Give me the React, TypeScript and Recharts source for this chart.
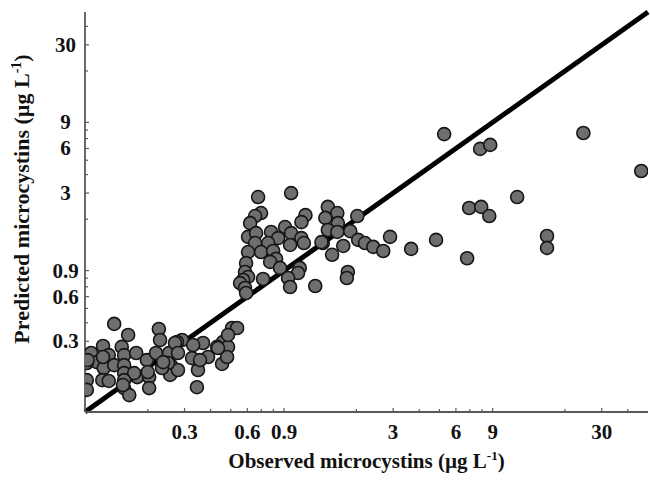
import React from "react";
import { ScatterChart, Scatter, XAxis, YAxis, ReferenceLine } from "recharts";

const observed = [
  // high observed values
  5.27, 7.84, 8.76, 24.5, 46.4, 11.8, 6.94, 7.93, 8.67, 16.4, 16.4, 3.66, 4.82, 6.79,
  // 1.3 - 3
  1.46, 1.62, 1.42, 1.63, 2.02, 1.46, 1.62, 1.87, 2.04, 2.2, 2.41, 2.69, 2.9, 1.73, 1.53, 1.38, 1.82, 1.8, 1.36,
  // 0.55 - 1.3
  0.676, 0.973, 0.698, 0.654, 0.619, 1.14, 1.09, 0.91, 0.78, 0.605, 0.661, 0.973, 0.843, 1.09, 0.654, 0.755,
  0.698, 0.798, 0.962, 1.12, 0.605, 0.592, 0.824, 0.772, 0.585, 0.605, 0.573, 0.861, 1.07, 1.05, 0.714, 0.941,
  0.554, 0.585, 0.962, 1.27, 0.592,
  // low cluster
  0.138, 0.161, 0.226, 0.229, 0.122, 0.15, 0.107, 0.114, 0.13, 0.154, 0.176, 0.102, 0.123, 0.138, 0.154, 0.154,
  0.198, 0.219, 0.239, 0.178, 0.172, 0.102, 0.121, 0.13, 0.154, 0.203, 0.102, 0.154, 0.163, 0.203, 0.258, 0.253,
  0.344, 0.507, 0.536, 0.459, 0.454, 0.368, 0.348, 0.326, 0.292, 0.276, 0.256, 0.279, 0.25, 0.234, 0.389, 0.43,
  0.485, 0.48, 0.485, 0.434, 0.33, 0.27, 0.279, 0.356, 0.122, 0.103, 0.152, 0.237, 0.2,
];

const predicted = [
  7.5, 5.96, 6.34, 7.63, 4.23, 2.82, 2.38, 2.42, 2.1, 1.54, 1.28, 1.26, 1.45, 1.09,
  2.42, 2.2, 2.04, 1.88, 2.1, 1.69, 1.64, 1.66, 1.45, 1.38, 1.3, 1.22, 1.52, 1.32, 1.15, 1.38, 0.881, 0.802, 1.4,
  2.82, 3.0, 2.2, 2.1, 1.88, 2.13, 1.91, 1.77, 1.64, 1.52, 1.61, 1.61, 1.49, 1.49, 1.38, 1.38,
  1.2, 1.22, 1.34, 1.38, 1.2, 1.01, 1.08, 1.03, 0.881, 0.815, 0.778, 0.938, 0.938, 0.867, 0.79, 0.802,
  0.741, 0.687, 0.697, 0.708, 0.635,
  0.393, 0.331, 0.363, 0.306, 0.279, 0.275, 0.25, 0.217, 0.242, 0.242, 0.25, 0.214, 0.198, 0.207, 0.207, 0.183,
  0.224, 0.25, 0.198, 0.172, 0.183, 0.164, 0.164, 0.162, 0.164, 0.172, 0.141, 0.145, 0.13, 0.145, 0.207, 0.25,
  0.147, 0.369, 0.369, 0.297, 0.211, 0.292, 0.192, 0.231, 0.306, 0.297, 0.178, 0.192, 0.214, 0.198, 0.235, 0.275,
  0.275, 0.235, 0.331, 0.27, 0.283, 0.292, 0.25, 0.224, 0.235, 0.224, 0.152, 0.217, 0.186,
];

const oneToOne = [0.1, 50];
const logTicks = [0.2, 0.3, 0.4, 0.5, 0.6, 0.7, 0.8, 0.9, 2, 3, 4, 5, 6, 7, 8, 9, 20, 30, 40];
const tickLabels = [0.3, 0.6, 0.9, 3, 6, 9, 30];
const topTicks = Array.from({ length: 31 }, (_, i) => i);
const rightTicks = Array.from({ length: 37 }, (_, i) => i);

const points = observed.map((x, i) => ({ x, y: predicted[i] }));

const FONT = '"Liberation Serif", "Times New Roman", serif';
const FRAME = "#5a5a5a";

const textStyle = {
  fontFamily: FONT,
  fontWeight: 700,
  fontSize: 21,
  fill: "#111",
};

const BottomTick = ({ x, y, payload }: any) => {
  const labeled = tickLabels.includes(payload.value);
  return (
    <g>
      <line x1={x} y1={y} x2={x} y2={y - (labeled ? 4 : 3)} stroke={FRAME} strokeWidth={1.2} />
      {labeled && (
        <text x={x} y={y + 27} textAnchor="middle" style={textStyle}>
          {payload.value}
        </text>
      )}
    </g>
  );
};

const LeftTick = ({ x, y, payload }: any) => {
  const labeled = tickLabels.includes(payload.value);
  return (
    <g>
      <line x1={x} y1={y} x2={x + (labeled ? 4 : 3)} y2={y} stroke={FRAME} strokeWidth={1.2} />
      {labeled && (
        <text x={x - 19.5} y={y + 7} textAnchor="middle" style={textStyle}>
          {payload.value}
        </text>
      )}
    </g>
  );
};

const TopTick = ({ x, y, payload }: any) => (
  <line x1={x} y1={y} x2={x} y2={y + (payload.value % 5 === 0 ? 4 : 2.5)} stroke={FRAME} strokeWidth={1.2} />
);

const RightTick = ({ x, y }: any) => (
  <line x1={x} y1={y} x2={x - 3} y2={y} stroke={FRAME} strokeWidth={1.2} />
);

const XTitle = ({ viewBox }: any) => (
  <text x={viewBox.x + viewBox.width / 2} y={viewBox.y + 56} textAnchor="middle" style={textStyle}>
    Observed microcystins (µg L
    <tspan dy={-8} fontSize={13}>-1</tspan>
    <tspan dy={8}>)</tspan>
  </text>
);

const YTitle = ({ viewBox }: any) => {
  const cx = viewBox.x + 4;
  const cy = 199;
  return (
    <text
      x={cx}
      y={cy}
      textAnchor="middle"
      transform={`rotate(-90, ${cx}, ${cy})`}
      style={{ ...textStyle, fontSize: 22 }}
    >
      Predicted microcystins (µg L
      <tspan dy={-8} fontSize={14}>-1</tspan>
      <tspan dy={8}>)</tspan>
    </text>
  );
};

export default function App() {
  return (
    <div style={{ position: "absolute", left: 0, top: 0, width: 650, height: 480, background: "#fff" }}>
      <ScatterChart width={650} height={480} margin={{ top: 12, right: 2, left: 25, bottom: 28 }}>
        <XAxis
          dataKey="x"
          type="number"
          scale="log"
          domain={[0.1, 50]}
          allowDataOverflow
          ticks={logTicks}
          interval={0}
          height={40}
          tickSize={0}
          tickMargin={0}
          tickLine={false}
          tick={BottomTick}
          axisLine={{ stroke: FRAME, strokeWidth: 1.8 }}
          label={XTitle}
        />
        <YAxis
          dataKey="y"
          type="number"
          scale="log"
          domain={[0.1, 50]}
          allowDataOverflow
          ticks={logTicks}
          interval={0}
          width={60}
          tickSize={0}
          tickMargin={0}
          tickLine={false}
          tick={LeftTick}
          axisLine={{ stroke: FRAME, strokeWidth: 1.8 }}
          label={YTitle}
        />
        <XAxis
          xAxisId="top"
          orientation="top"
          mirror
          type="number"
          domain={[0, 30]}
          allowDataOverflow
          ticks={topTicks}
          interval={0}
          height={0}
          tickSize={0}
          tickMargin={0}
          tickLine={false}
          tick={TopTick}
          axisLine={{ stroke: FRAME, strokeWidth: 1.5 }}
        />
        <YAxis
          yAxisId="right"
          orientation="right"
          mirror
          type="number"
          domain={[0, 36]}
          allowDataOverflow
          ticks={rightTicks}
          interval={0}
          width={0}
          tickSize={0}
          tickMargin={0}
          tickLine={false}
          tick={RightTick}
          axisLine={{ stroke: FRAME, strokeWidth: 1.5 }}
        />
        <Scatter
          data={points}
          isAnimationActive={false}
          shape={(p: any) => (
            <circle cx={p.cx} cy={p.cy} r={6.5} fill="#6e6e6e" stroke="#161616" strokeWidth={1.6} />
          )}
        />
        <ReferenceLine
          segment={[
            { x: oneToOne[0], y: oneToOne[0] },
            { x: oneToOne[1], y: oneToOne[1] },
          ]}
          stroke="#000"
          strokeWidth={5}
        />
      </ScatterChart>
    </div>
  );
}
